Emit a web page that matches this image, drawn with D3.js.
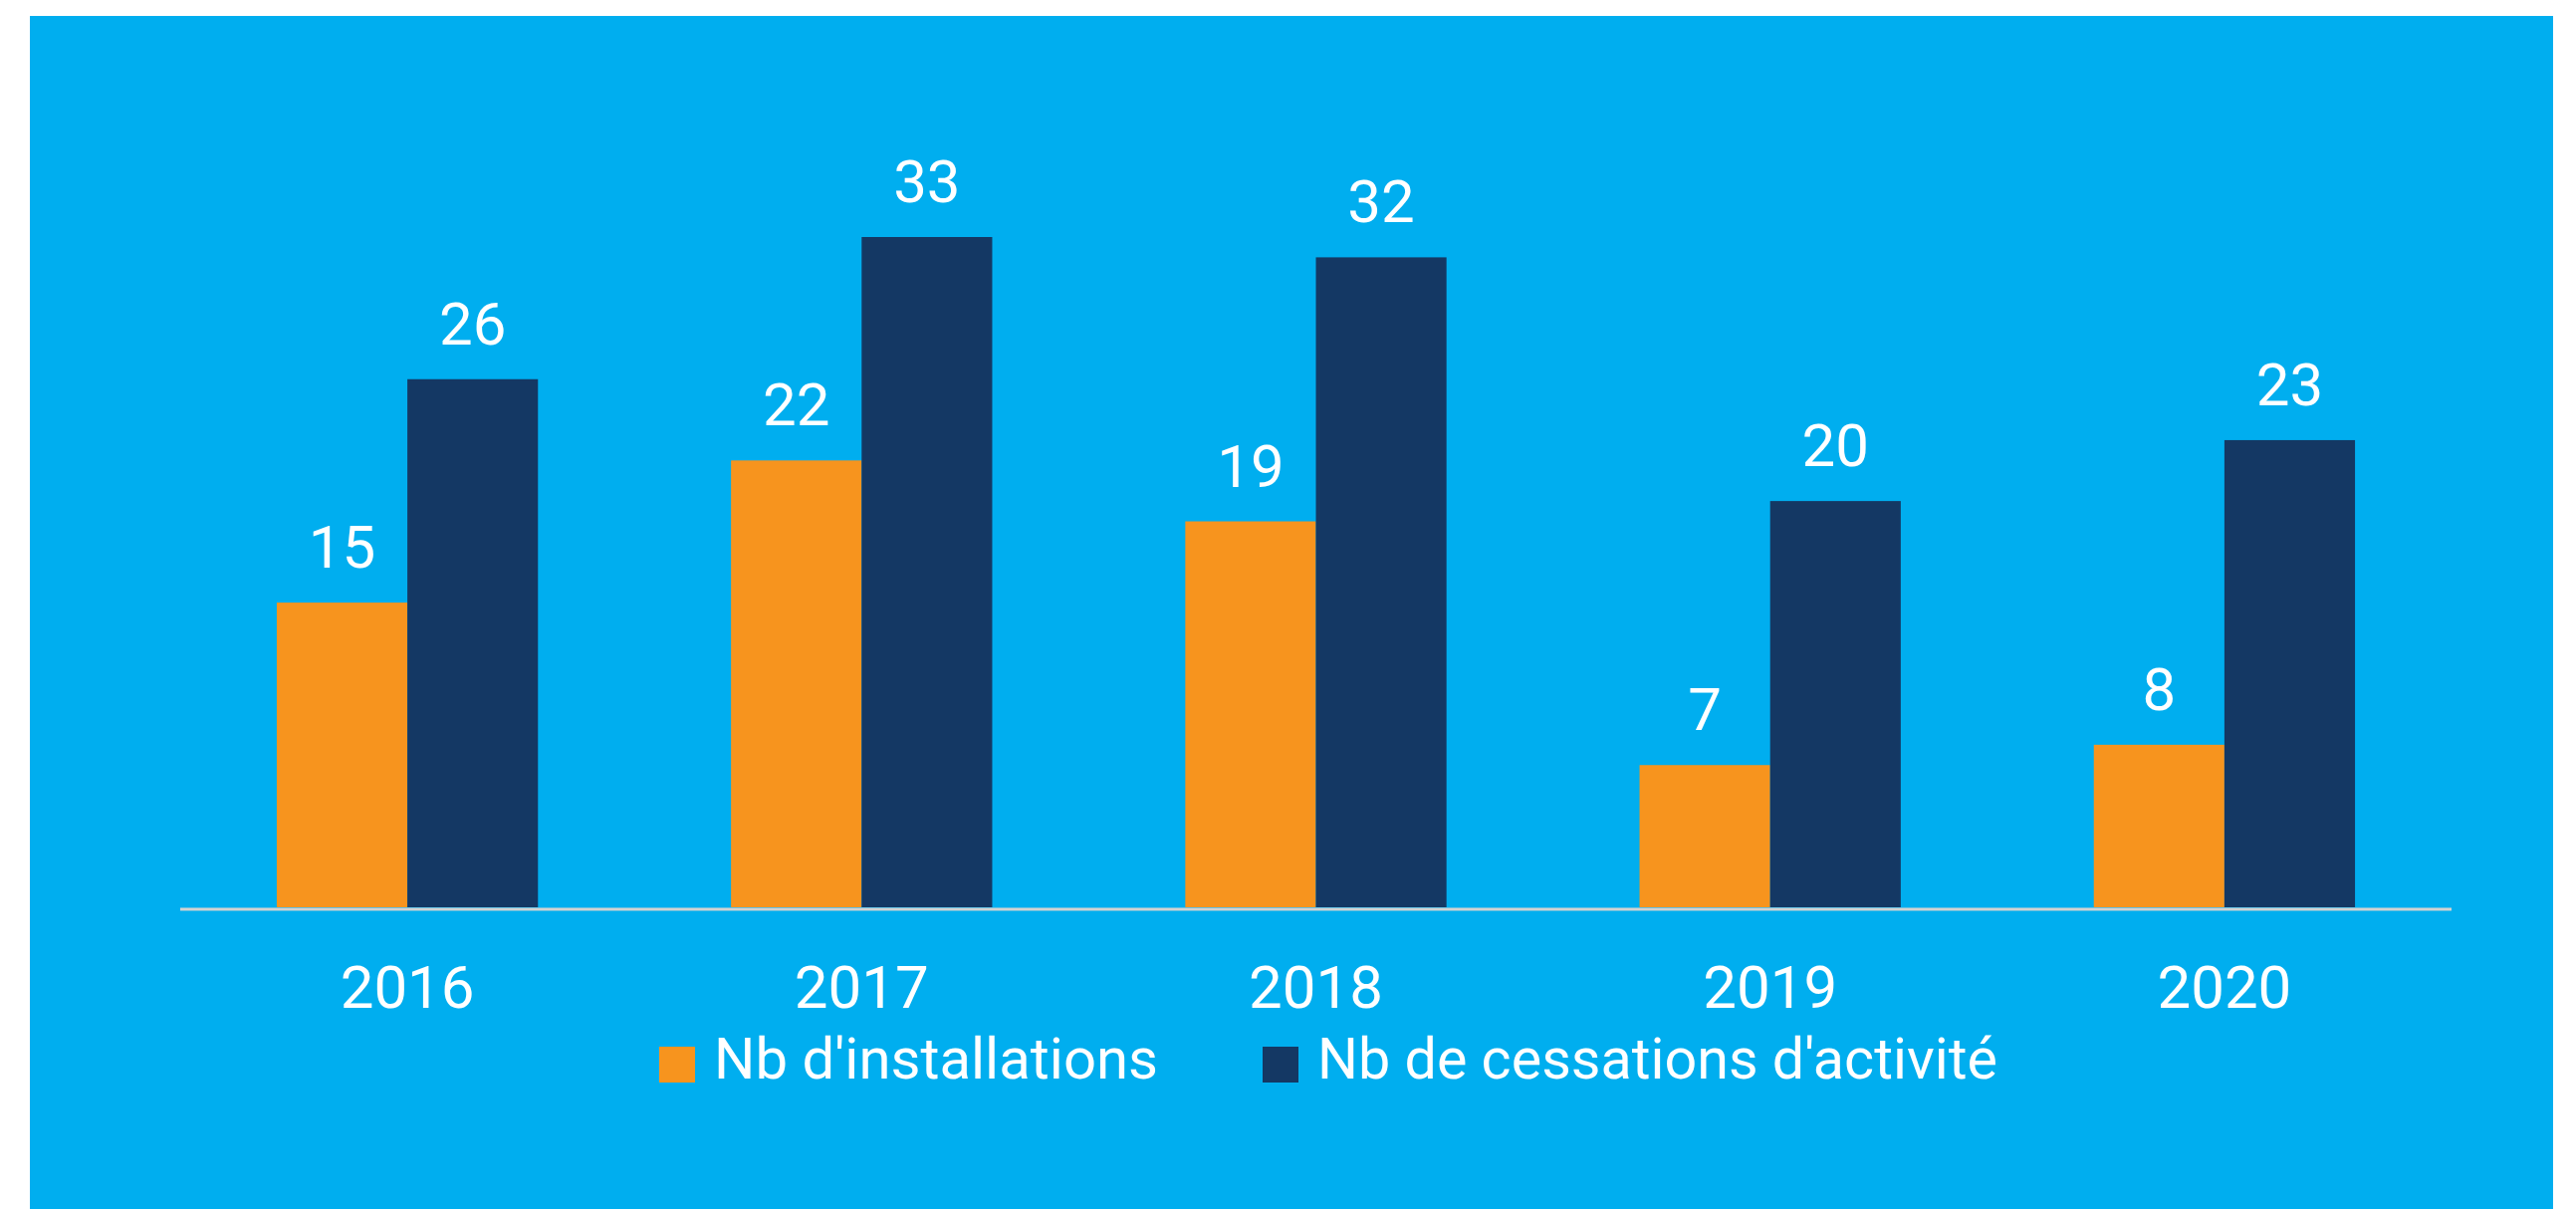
<!DOCTYPE html>
<html>
<head>
<meta charset="utf-8">
<script src="https://cdn.jsdelivr.net/npm/d3@7"></script>
<style>
  html, body { margin: 0; padding: 0; background: #ffffff; }
  svg { display: block; }
  text { font-family: Roboto, "Noto Sans", sans-serif; fill: #ffffff; }
</style>
</head>
<body>
<svg id="chart" width="2587" height="1214"></svg>
<script>
const categories = ["2016", "2017", "2018", "2019", "2020"];
const seriesNames = ["Nb d'installations", "Nb de cessations d'activité"];
const installations = [15, 22, 19, 7, 8];
const cessations = [26, 33, 32, 20, 23];
const seriesColors = ["#F7941E", "#143864"];

const W = 2587, H = 1214;
const svg = d3.select("#chart");

// background panel
svg.append("rect").attr("x", 30).attr("y", 16).attr("width", 2534).attr("height", H - 16)
  .attr("fill", "#00AEEF");

const plot = { left: 181, right: 2462, base: 911, top: 238 };

const x0 = d3.scaleBand().domain(categories)
  .range([plot.left, plot.right]).paddingInner(0.425).paddingOuter(0.2125);
const x1 = d3.scaleBand().domain(seriesNames).range([0, x0.bandwidth()]).padding(0);
const y = d3.scaleLinear().domain([0, 33]).range([plot.base, plot.top]);

const rows = categories.map((c, i) => ({
  cat: c,
  vals: [
    { s: seriesNames[0], v: installations[i], color: seriesColors[0] },
    { s: seriesNames[1], v: cessations[i], color: seriesColors[1] }
  ]
}));

const groups = svg.append("g").selectAll("g").data(rows).join("g")
  .attr("transform", d => `translate(${x0(d.cat)},0)`);

groups.selectAll("rect").data(d => d.vals).join("rect")
  .attr("x", d => x1(d.s))
  .attr("y", d => y(d.v))
  .attr("width", x1.bandwidth())
  .attr("height", d => y(0) - y(d.v))
  .attr("fill", d => d.color);

groups.selectAll("text.val").data(d => d.vals).join("text")
  .attr("class", "val")
  .attr("x", d => x1(d.s) + x1.bandwidth() / 2)
  .attr("y", d => y(d.v) - 35)
  .attr("text-anchor", "middle")
  .attr("font-size", 60)
  .text(d => d.v);

// x axis
const xAxis = d3.axisBottom(x0).tickSize(0).tickPadding(0);
const ax = svg.append("g").attr("transform", `translate(0,${plot.base})`).call(xAxis);
ax.select(".domain").remove();
ax.append("line").attr("x1", plot.left).attr("x2", plot.right)
  .attr("y1", 2).attr("y2", 2).attr("stroke", "#D2D2D2").attr("stroke-width", 3);
ax.selectAll(".tick text")
  .attr("y", 101).attr("dy", null)
  .attr("font-size", 60).attr("font-family", "Roboto, 'Noto Sans', sans-serif")
  .attr("fill", "#ffffff");

// legend
const legendX = [662, 1268];
const legendW = [446, 683];
const leg = svg.append("g").selectAll("g").data(seriesNames).join("g")
  .attr("transform", (d, i) => `translate(${legendX[i]},1051)`);
leg.append("rect").attr("width", 36).attr("height", 36)
  .attr("fill", (d, i) => seriesColors[i]);
leg.append("text").attr("x", 55).attr("y", 32)
  .attr("font-size", 57)
  .attr("textLength", (d, i) => legendW[i])
  .attr("lengthAdjust", "spacingAndGlyphs")
  .text(d => d);
</script>
</body>
</html>
